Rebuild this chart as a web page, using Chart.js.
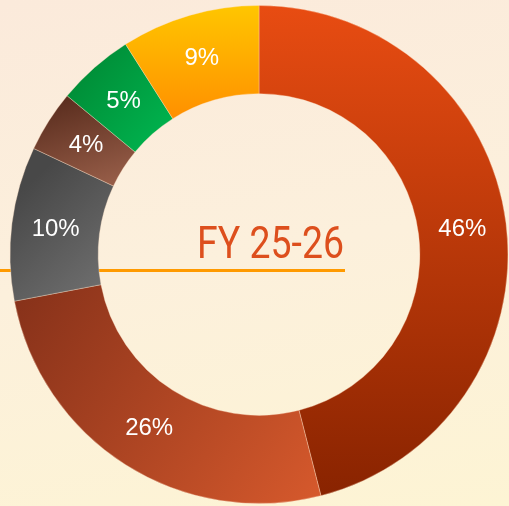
<!DOCTYPE html>
<html>
<head>
<meta charset="utf-8">
<script src="https://cdn.jsdelivr.net/npm/chart.js@4.4.1/dist/chart.umd.min.js"></script>
<style>
  html, body { margin: 0; padding: 0; }
  body {
    width: 509px; height: 506px; overflow: hidden;
    background: linear-gradient(170deg, #fbeadb 0%, #fcf0dc 50%, #fdf4d4 100%);
  }
  #wrap { position: relative; width: 509px; height: 506px; }
</style>
</head>
<body>
<div id="wrap"><canvas id="chart-fy"></canvas></div>
<script>
/* ── DATA ── */
const segmentNames = ['Segment 1', 'Segment 2', 'Segment 3', 'Segment 4', 'Segment 5', 'Segment 6'];
const shareValues  = [46, 26, 10, 4, 5, 9];
const centerTitle  = 'FY 25-26';

// gradient stops per slice: [x0, y0, x1, y1, colour start, colour end]
const sliceGrads = [
  [0, 5, 0, 500,     '#e84c12', '#882300'],
  [20, 300, 320, 500, '#88321a', '#d6592c'],
  [10, 200, 100, 300, '#484848', '#707070'],
  [70, 95, 100, 185,  '#5a2d1e', '#955c47'],
  [70, 45, 170, 125,  '#008532', '#00b14d'],
  [0, 5, 0, 120,      '#ffc600', '#ff8f00'],
];

function sliceColor(ctx) {
  const g = sliceGrads[ctx.dataIndex];
  const c = ctx.chart.ctx;
  const grad = c.createLinearGradient(g[0], g[1], g[2], g[3]);
  grad.addColorStop(0, g[4]);
  grad.addColorStop(1, g[5]);
  return grad;
}

// underline goes behind the ring, title sits in the hole
const underlinePlugin = {
  id: 'underline',
  beforeDatasetsDraw(chart) {
    const c = chart.ctx;
    c.save();
    c.fillStyle = '#ff9a00';
    c.fillRect(0, 269, 345, 3);
    c.restore();
  },
  afterDatasetsDraw(chart) {
    const c = chart.ctx;
    c.save();
    c.font = '44px Roboto';
    const w = c.measureText(centerTitle).width;
    const sx = 147 / w;
    c.translate(344, 258);
    c.scale(sx, 1);
    c.fillStyle = '#dd4f1d';
    c.textAlign = 'right';
    c.textBaseline = 'alphabetic';
    c.fillText(centerTitle, 0, 0);
    c.restore();
  },
};

const sliceLabelPlugin = {
  id: 'sliceLabels',
  afterDatasetsDraw(chart) {
    const c = chart.ctx;
    const meta = chart.getDatasetMeta(0);
    c.save();
    c.font = '24px "Liberation Sans", Arial, sans-serif';
    c.fillStyle = '#ffffff';
    c.textAlign = 'center';
    c.textBaseline = 'middle';
    meta.data.forEach((arc, i) => {
      const p = arc.tooltipPosition();
      c.fillText(shareValues[i] + '%', p.x, p.y + 1);
    });
    c.restore();
  },
};

new Chart(document.getElementById('chart-fy'), {
  type: 'doughnut',
  data: {
    labels: segmentNames,
    datasets: [{
      data: shareValues,
      backgroundColor: sliceColor,
      borderColor: 'rgba(255,225,200,0.35)',
      borderWidth: 1,
      hoverOffset: 0,
    }],
  },
  options: {
    responsive: true, maintainAspectRatio: false,
    animation: false,
    cutout: '64.6%',
    layout: { padding: { left: 9, right: 0, top: 5, bottom: 2 } },
    plugins: { legend: { display: false }, tooltip: { enabled: false } },
  },
  plugins: [underlinePlugin, sliceLabelPlugin],
});
</script>
</body>
</html>
